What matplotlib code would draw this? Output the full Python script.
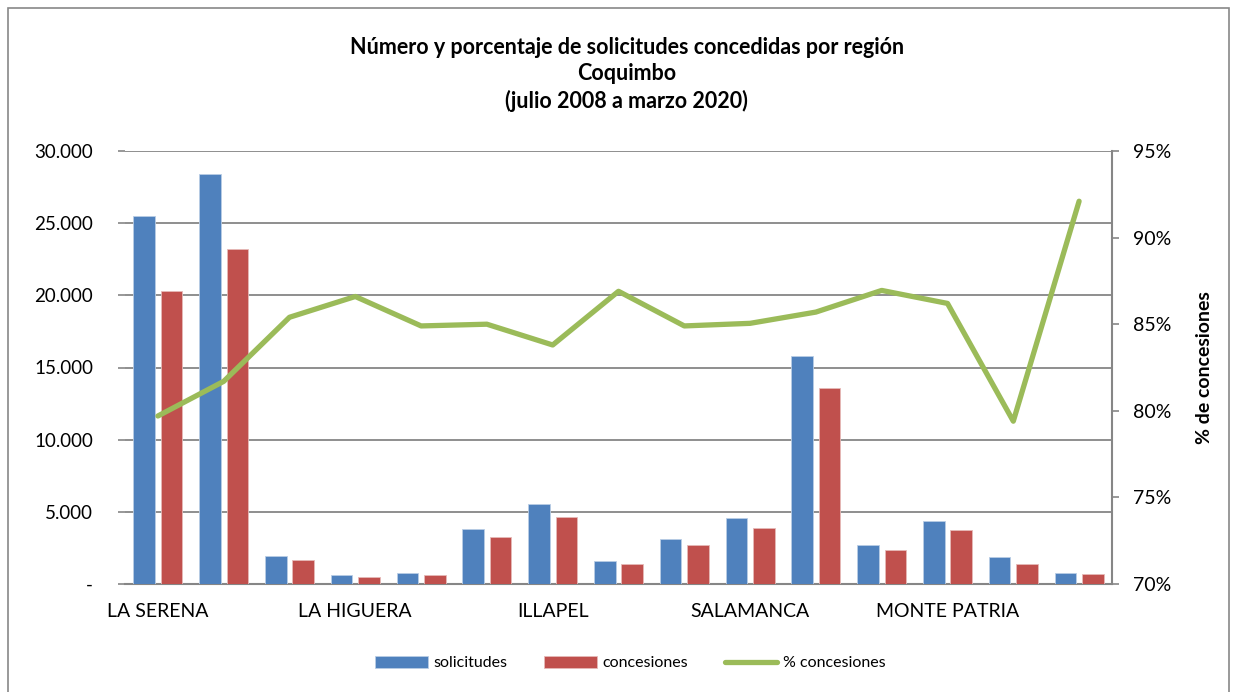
import matplotlib.pyplot as plt
import matplotlib.ticker as mticker
from matplotlib.patches import Rectangle
import numpy as np

plt.rcParams['font.family'] = ['Lato', 'DejaVu Sans']

# Data
comunas = ['LA SERENA', 'COQUIMBO', 'ANDACOLLO', 'LA HIGUERA', 'PAIGUANO',
           'VICUÑA', 'ILLAPEL', 'CANELA', 'LOS VILOS', 'SALAMANCA',
           'OVALLE', 'COMBARBALÁ', 'MONTE PATRIA', 'PUNITAQUI', 'RÍO HURTADO']
solicitudes = [25500, 28400, 1940, 620, 760, 3800, 5540, 1600, 3120, 4540,
               15800, 2700, 4370, 1840, 730]
concesiones = [20300, 23200, 1660, 490, 620, 3260, 4640, 1390, 2700, 3880,
               13580, 2360, 3740, 1420, 660]
pct_concesiones = [79.7, 81.7, 85.4, 86.6, 84.9, 85.0, 83.8, 86.9, 84.9, 85.05,
                   85.7, 86.95, 86.2, 79.4, 92.1]

blue = '#4F81BD'
red = '#C0504D'
green = '#9BBB59'
grid_gray = '#868686'

fig = plt.figure(figsize=(12.36, 6.92), dpi=100)
ax = fig.add_axes([125/1236, 1 - 584/692, (1112 - 125)/1236, (584 - 151)/692])

x = np.arange(len(comunas))
w = 0.33
ax.bar(x - 0.208, solicitudes, w, color=blue, edgecolor='#B9CDE5', linewidth=0.6,
       label='solicitudes', zorder=3)
ax.bar(x + 0.208, concesiones, w, color=red, edgecolor='#E6B9B8', linewidth=0.6,
       label='concesiones', zorder=3)

ax.set_xlim(-0.5, len(comunas) - 0.5)
ax.set_ylim(0, 30000)
ax.set_yticks(np.arange(0, 30001, 5000))
ax.yaxis.set_major_formatter(mticker.FuncFormatter(
    lambda v, p: '-' if v == 0 else f'{int(v):,}'.replace(',', '.')))
ax.grid(axis='y', color=grid_gray, linewidth=1.3, zorder=0)
ax.set_axisbelow(True)

ax.set_xticks(x[::3])
ax.set_xticklabels(comunas[::3])
ax.tick_params(axis='x', length=0, pad=14, labelsize=14)
ax.tick_params(axis='y', length=5, color=grid_gray, width=1.2, pad=18, labelsize=13.5)
for s in ['top', 'left', 'right']:
    ax.spines[s].set_visible(False)
ax.spines['bottom'].set_color(grid_gray)
ax.spines['bottom'].set_linewidth(1.5)

ax2 = ax.twinx()
ax2.plot(x, pct_concesiones, color=green, linewidth=3.8, solid_capstyle='round',
         label='% concesiones', zorder=4)
ax2.set_ylim(70, 95)
ax2.set_yticks(np.arange(70, 96, 5))
ax2.yaxis.set_major_formatter(mticker.FuncFormatter(lambda v, p: f'{int(v)}%'))
ax2.tick_params(axis='y', length=5, color=grid_gray, width=1.2, pad=10, labelsize=14)
for s in ['top', 'left', 'bottom']:
    ax2.spines[s].set_visible(False)
ax2.spines['right'].set_color(grid_gray)
ax2.spines['right'].set_linewidth(1.5)
ax2.set_ylabel('% de concesiones', fontsize=14, fontweight='bold', labelpad=18)

title_lines = ['Número y porcentaje de solicitudes concedidas por región',
               'Coquimbo', '(julio 2008 a marzo 2020)']
for i, line in enumerate(title_lines):
    fig.text(0.507, 1 - (47 + 27 * i)/692, line, ha='center', va='center',
             fontsize=15.5, fontweight='bold')

h1, l1 = ax.get_legend_handles_labels()
h2, l2 = ax2.get_legend_handles_labels()
fig.legend(h1 + h2, l1 + l2, loc='center', bbox_to_anchor=(0.51, 1 - 663/692),
           ncol=3, frameon=False, fontsize=11.5, handlelength=3.3, handleheight=0.8,
           columnspacing=2.3, handletextpad=0.35)

fig.patches.append(Rectangle((8/1236, -0.01), (1229 - 8)/1236, 1 - 8/692 + 0.01,
                             transform=fig.transFigure, fill=False,
                             edgecolor='#888888', linewidth=1.2))

plt.savefig('out.png', dpi=100)
